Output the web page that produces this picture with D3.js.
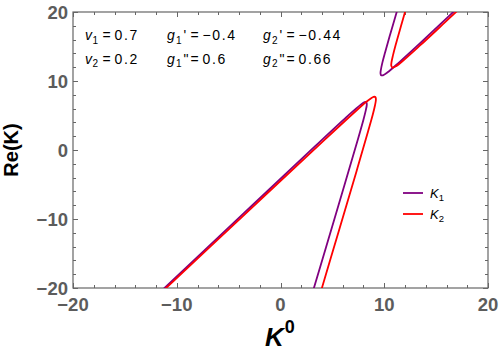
<!DOCTYPE html>
<html>
<head>
<meta charset="utf-8">
<script src="https://cdn.jsdelivr.net/npm/d3@7"></script>
<style>
  html, body { margin: 0; padding: 0; background: #fff; }
  svg { display: block; font-family: "Liberation Sans", Arial, sans-serif; }
</style>
</head>
<body>
<svg id="chart" width="500" height="352"></svg>
<script>
// [K0, Re(K)] points, one list per branch
const k1Lower = [
  [-13.16, -22.8], [-3.53, -9.16], [3.34, 0.55], [6.35, 4.76], [7.3, 6.03],
  [7.77, 6.61], [8.02, 6.87], [8.18, 6.97], [8.27, 6.94], [8.31, 6.77],
  [8.31, 6.42], [8.22, 5.75], [8.0, 4.43], [7.47, 1.6], [6.16, -5.1],
  [4.39, -14.08], [2.91, -21.56]
];
const k1Upper = [
  [17.97, 21.85], [16.18, 19.33], [13.51, 15.56], [11.44, 12.71], [10.29, 11.22],
  [9.87, 10.83], [9.7, 10.83], [9.64, 11.11], [9.68, 11.66], [9.82, 12.66],
  [10.08, 14.13], [10.59, 16.85], [11.26, 20.3]
];
const k2Lower = [
  [-12.15, -21.59], [-2.54, -8.05], [4.32, 1.58], [7.32, 5.73], [8.25, 6.95],
  [8.74, 7.51], [8.97, 7.7], [9.11, 7.7], [9.18, 7.55], [9.19, 7.17],
  [9.11, 6.49], [8.89, 5.1], [8.43, 2.65], [7.33, -3.07], [5.7, -11.33],
  [3.66, -21.68]
];
const k2Upper = [
  [19.19, 23.2], [15.92, 18.6], [13.48, 15.19], [11.94, 13.11], [11.15, 12.16],
  [10.79, 11.95], [10.68, 12.21], [10.7, 12.73], [10.84, 13.72], [11.09, 15.18],
  [11.6, 17.9], [12.26, 21.34]
];

const xTicks = [-20, -10, 0, 10, 20];
const yTicks = [-20, -10, 0, 10, 20];
const minorTicks = d3.range(-20, 20.001, 2);

const seriesNames = ["K1", "K2"];
const seriesColors = ["#800080", "#ff0000"];

// symbol, subscript, primes, value
const paramLabels = [
  ["v", "1", "", "0.7"], ["g", "1", "'", "\u22120.4"], ["g", "2", "'", "\u22120.44"],
  ["v", "2", "", "0.2"], ["g", "1", "\"", "0.6"], ["g", "2", "\"", "0.66"]
];

const width = 500, height = 352;
const margin = { top: 12, right: 12, bottom: 64, left: 73 };

const svg = d3.select("#chart");

const x = d3.scaleLinear().domain([-20, 20]).range([margin.left, width - margin.right]);
const y = d3.scaleLinear().domain([-20, 20]).range([height - margin.bottom, margin.top]);

svg.append("defs").append("clipPath").attr("id", "plot-clip")
  .append("rect")
  .attr("x", x(-20)).attr("y", y(20))
  .attr("width", x(20) - x(-20)).attr("height", y(-20) - y(20));

const frameColor = "#666";
const tickTextColor = "#5c5c5c";

// ticks on all four sides, pointing inward
const tickG = svg.append("g").attr("stroke", frameColor).attr("stroke-width", 1);
minorTicks.forEach((v) => {
  const len = xTicks.includes(v) ? 5 : 3;
  const px = Math.round(x(v)) + 0.5;
  const py = Math.round(y(v)) + 0.5;
  tickG.append("line").attr("x1", px).attr("x2", px).attr("y1", y(-20)).attr("y2", y(-20) - len);
  tickG.append("line").attr("x1", px).attr("x2", px).attr("y1", y(20)).attr("y2", y(20) + len);
  tickG.append("line").attr("y1", py).attr("y2", py).attr("x1", x(-20)).attr("x2", x(-20) + len);
  tickG.append("line").attr("y1", py).attr("y2", py).attr("x1", x(20)).attr("x2", x(20) - len);
});

svg.append("rect")
  .attr("x", x(-20)).attr("y", y(20))
  .attr("width", x(20) - x(-20)).attr("height", y(-20) - y(20))
  .attr("fill", "none").attr("stroke", frameColor).attr("stroke-width", 1.2);

const fmt = (v) => (v < 0 ? "\u2212" + Math.abs(v) : String(v));

svg.append("g").selectAll("text").data(xTicks).join("text")
  .attr("x", (d) => x(d)).attr("y", y(-20) + 23)
  .attr("text-anchor", "middle")
  .attr("font-size", 18.5).attr("font-weight", "bold").attr("fill", tickTextColor)
  .text(fmt);

svg.append("g").selectAll("text").data(yTicks).join("text")
  .attr("x", x(-20) - 5).attr("y", (d) => y(d) + 6.6)
  .attr("text-anchor", "end")
  .attr("font-size", 18.5).attr("font-weight", "bold").attr("fill", tickTextColor)
  .text(fmt);

// axis labels
svg.append("text")
  .attr("transform", `translate(18,${(y(-20) + y(20)) / 2}) rotate(-90)`)
  .attr("text-anchor", "middle")
  .attr("font-size", 20).attr("font-weight", "bold").attr("fill", "#000")
  .text("Re(K)");

const xLab = svg.append("text")
  .attr("x", 265).attr("y", 346)
  .attr("font-weight", "bold").attr("fill", "#000");
xLab.append("tspan").attr("font-size", 26).attr("font-style", "italic").text("K");
xLab.append("tspan").attr("font-size", 18).attr("dy", -13).attr("dx", 1).text("0");

// curves
const line = d3.line()
  .x((d) => x(d[0]))
  .y((d) => y(d[1]))
  .curve(d3.curveCatmullRom.alpha(0.5));

const curves = svg.append("g").attr("clip-path", "url(#plot-clip)")
  .attr("fill", "none").attr("stroke-width", 1.8).attr("stroke-linejoin", "round");

[[k1Lower, k1Upper], [k2Lower, k2Upper]].forEach((branches, i) => {
  branches.forEach((pts) => {
    curves.append("path").attr("d", line(pts)).attr("stroke", seriesColors[i]);
  });
});

// parameter annotation, pieces placed like the reference's wide spacing
const colX = [85, 167, 263];
const rowY = [40, 63.5];
paramLabels.forEach((p, i) => {
  const x0 = colX[i % 3];
  const y0 = rowY[Math.floor(i / 3)];
  const isV = p[0] === "v";
  const g = svg.append("g").attr("font-size", 14).attr("fill", "#000");
  g.append("text").attr("x", x0).attr("y", y0).attr("font-style", "italic").text(p[0]);
  g.append("text").attr("x", x0 + (isV ? 7.5 : 9)).attr("y", y0 + 3.5).attr("font-size", 10).text(p[1]);
  if (p[2]) g.append("text").attr("x", x0 + 16.5).attr("y", y0).text(p[2]);
  g.append("text").attr("x", x0 + (isV ? 17.5 : 23.5)).attr("y", y0).text("=");
  g.append("text").attr("x", x0 + (isV ? 29.5 : 35.5)).attr("y", y0)
    .attr("letter-spacing", 1.6).text(p[3]);
});

// legend
const legend = svg.append("g");
seriesNames.forEach((name, i) => {
  const ly = 193 + i * 21;
  legend.append("line")
    .attr("x1", 403).attr("x2", 423).attr("y1", ly).attr("y2", ly)
    .attr("stroke", seriesColors[i]).attr("stroke-width", 1.8);
  const t = legend.append("text")
    .attr("x", 430).attr("y", ly + 4.5)
    .attr("font-size", 13).attr("fill", "#000");
  t.append("tspan").attr("font-style", "italic").text(name[0]);
  t.append("tspan").attr("font-size", 9.5).attr("dy", 3.5).text(name.slice(1));
});
</script>
</body>
</html>
